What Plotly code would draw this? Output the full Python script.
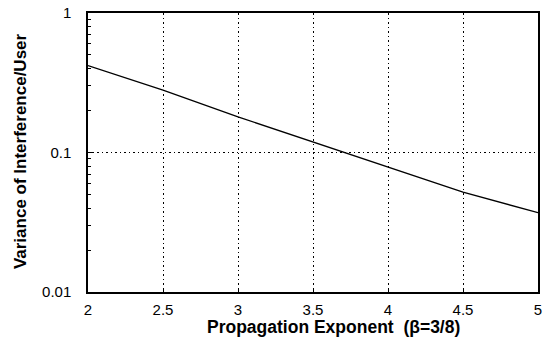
import plotly.graph_objects as go

exponent = [2.0, 2.5, 3.0, 3.5, 4.0, 4.5, 5.0]
variance = [0.42, 0.28, 0.18, 0.119, 0.079, 0.052, 0.037]

x_ticks = [2, 2.5, 3, 3.5, 4, 4.5, 5]
x_tick_labels = ["2", "2.5", "3", "3.5", "4", "4.5", "5"]
y_ticks = [0.01, 0.1, 1]
y_tick_labels = ["0.01", "0.1", "1"]
y_minor = [m * 10**e for e in (-2, -1) for m in range(2, 10)]

fig = go.Figure()
fig.add_trace(go.Scatter(x=exponent, y=variance, mode="lines",
                         line=dict(color="black", width=1.3), showlegend=False))

font = "Liberation Sans, Arial, sans-serif"
grid_dash = "1.5px,3px"
fig.update_layout(
    width=550, height=337,
    margin=dict(l=88, r=12, t=13, b=45),
    paper_bgcolor="white", plot_bgcolor="white",
    font=dict(family=font, color="black", size=15),
    xaxis=dict(range=[2, 5], tickvals=x_ticks, ticktext=x_tick_labels,
               showgrid=True, gridcolor="black", griddash=grid_dash, gridwidth=1,
               showline=True, linecolor="black", linewidth=1.5, mirror=True,
               ticks="inside", ticklen=4, tickcolor="black", zeroline=False,
               ticklabelstandoff=3, automargin=False),
    yaxis=dict(type="log", range=[-2, 0], tickvals=y_ticks, ticktext=y_tick_labels,
               showgrid=True, gridcolor="black", griddash=grid_dash, gridwidth=1,
               showline=True, linecolor="black", linewidth=1.5, mirror=True,
               ticks="inside", ticklen=5, tickcolor="black", zeroline=False,
               ticklabelstandoff=12, automargin=False,
               minor=dict(tickvals=y_minor, ticks="inside", ticklen=3,
                          tickcolor="black", showgrid=False)),
    annotations=[
        dict(text="<b>Propagation Exponent  (β=3/8)</b>", xref="paper", yref="paper",
             x=0.546, y=0, xanchor="center", yanchor="middle", yshift=-35,
             showarrow=False, font=dict(size=17.5, family=font)),
        dict(text="<b>Variance of Interference/User</b>", xref="paper", yref="paper",
             x=0, y=0.505, xanchor="center", yanchor="middle", xshift=-68,
             textangle=-90, showarrow=False, font=dict(size=17, family=font)),
    ],
)

fig.write_html("out.html", config={"displayModeBar": False},
               post_script="document.body.style.margin='0';")
